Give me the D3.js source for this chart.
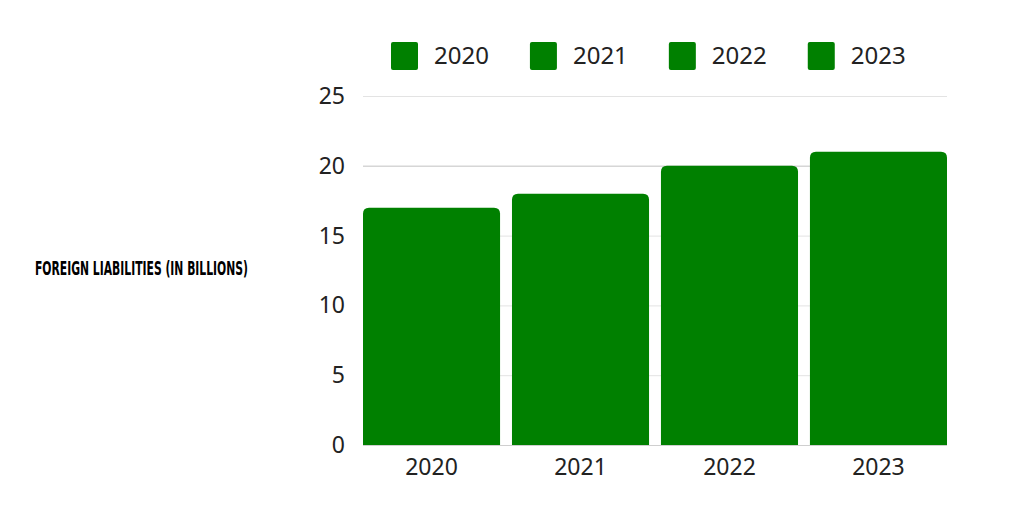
<!DOCTYPE html>
<html>
<head>
<meta charset="utf-8">
<script src="https://cdn.jsdelivr.net/npm/d3@7"></script>
<style>
  body { margin: 0; background: #fff; }
  svg text { font-family: "Noto Sans", "Open Sans", sans-serif; fill: #222; }
</style>
</head>
<body>
<div id="chart"></div>
<script>
// Data
const years = ["2020", "2021", "2022", "2023"];
const liabilities = [17, 18, 20, 21];
const yTicks = [0, 5, 10, 15, 20, 25];
const yLabel = "FOREIGN LIABILITIES (IN BILLIONS)";

const width = 1024;
const height = 512;
const plot = {left: 363, right: 947, top: 96, bottom: 445};
const barColor = "#008000";

const svg = d3.select("#chart")
  .append("svg")
  .attr("width", width)
  .attr("height", height);

const x = d3.scaleBand()
  .domain(years)
  .range([plot.left, plot.right])
  .paddingInner(0.08)
  .paddingOuter(0);

const y = d3.scaleLinear()
  .domain([0, 25])
  .range([plot.bottom, plot.top]);

// Gridlines
svg.append("g")
  .selectAll("line")
  .data(yTicks)
  .enter()
  .append("line")
  .attr("x1", plot.left)
  .attr("x2", plot.right)
  .attr("y1", d => y(d) + 0.5)
  .attr("y2", d => y(d) + 0.5)
  .attr("stroke", d => d === 0 ? "#cfcfcf" : (d === 20 ? "#d6d6d6" : "#e3e3e3"))
  .attr("stroke-width", d => d === 20 ? 1.5 : 1);

// Y axis labels
svg.append("g")
  .selectAll("text")
  .data(yTicks)
  .enter()
  .append("text")
  .attr("x", 345)
  .attr("y", d => y(d))
  .attr("dy", "0.35em")
  .attr("text-anchor", "end")
  .style("font-size", "23px")
  .text(d => d);

// Bars with rounded top corners
const r = 6;
function barPath(x0, w, yTop, yBottom) {
  return `M${x0},${yBottom}V${yTop + r}Q${x0},${yTop} ${x0 + r},${yTop}` +
    `H${x0 + w - r}Q${x0 + w},${yTop} ${x0 + w},${yTop + r}V${yBottom}Z`;
}

svg.append("g")
  .selectAll("path")
  .data(years.map((yr, i) => ({year: yr, value: liabilities[i]})))
  .enter()
  .append("path")
  .attr("d", d => barPath(x(d.year), x.bandwidth(), y(d.value), y(0)))
  .attr("fill", barColor);

// X axis labels
svg.append("g")
  .selectAll("text")
  .data(years)
  .enter()
  .append("text")
  .attr("x", d => x(d) + x.bandwidth() / 2)
  .attr("y", 467)
  .attr("dy", "0.35em")
  .attr("text-anchor", "middle")
  .style("font-size", "23px")
  .text(d => d);

// Legend
const legend = svg.append("g");
let lx = 391;
years.forEach(yr => {
  legend.append("rect")
    .attr("x", lx)
    .attr("y", 42)
    .attr("width", 27)
    .attr("height", 28)
    .attr("rx", 2)
    .attr("fill", barColor);
  const t = legend.append("text")
    .attr("x", lx + 43)
    .attr("y", 56)
    .attr("dy", "0.35em")
    .style("font-size", "24px")
    .text(yr);
  lx += 43 + t.node().getComputedTextLength() + 41;
});

// Y axis title
svg.append("text")
  .attr("x", 35)
  .attr("y", 268)
  .attr("dy", "0.35em")
  .attr("textLength", 213)
  .attr("lengthAdjust", "spacingAndGlyphs")
  .style("font-family", "'Liberation Sans Narrow', 'DejaVu Sans Condensed', sans-serif")
  .style("font-weight", "bold")
  .style("font-size", "19px")
  .style("fill", "#000")
  .text(yLabel);
</script>
</body>
</html>
